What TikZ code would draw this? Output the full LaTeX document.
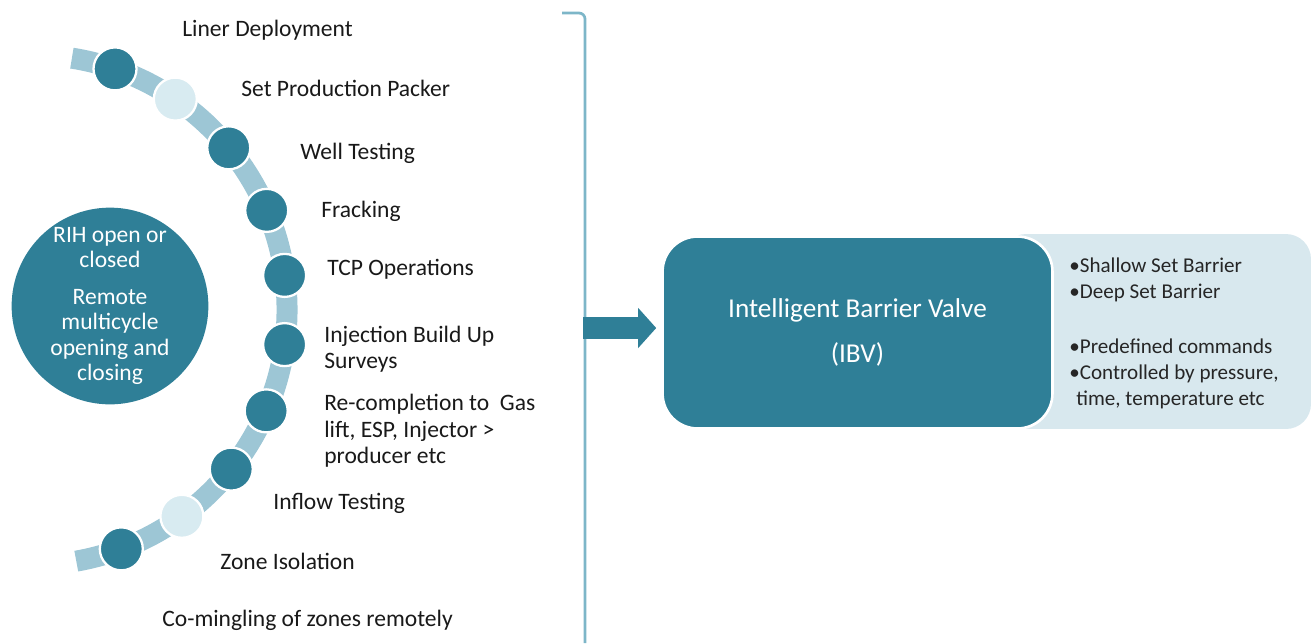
\documentclass[tikz,border=0pt]{standalone}
\usepackage{fontspec}
\setmainfont{Carlito}
\usepackage{tikz}
\usetikzlibrary{arrows.meta,positioning,calc}
\definecolor{ibvteal}{HTML}{2F7F97}
\definecolor{ibvband}{HTML}{9DC6D5}
\definecolor{ibvpale}{HTML}{D8EBF1}
\definecolor{ibvbox}{HTML}{D8E8EE}
\definecolor{ibvline}{HTML}{7DB6C8}

\begin{document}
\begin{tikzpicture}[x=0.02cm, y=0.02cm,
    stage/.style={circle, fill=ibvteal, draw=white, line width=1.3pt, minimum size=0.86cm, inner sep=0pt},
    stagepale/.style={stage, fill=ibvpale},
    stagelabel/.style={anchor=west, align=left, inner sep=0pt, text=black!90, font=\fontsize{13.4}{15}\selectfont},
    notetext/.style={anchor=west, align=left, inner sep=0pt, text=black!85, font=\fontsize{12}{15}\selectfont}]
        \def\hubr{255}
        \useasboundingbox (0,0) rectangle (1314,-643);
        \coordinate (hub) at (32,-310);

        \draw [ibvband, line width=0.42cm] ($(hub)+(81:\hubr)$) arc [start angle=81, end angle=-80, radius=\hubr];

        \node(s1) [stage] at ($(hub)+(71:\hubr)$) {};
        \node(s2) [stagepale] at ($(hub)+(55.8:\hubr)$) {};
        \node(s3) [stage] at ($(hub)+(39.5:\hubr)$) {};
        \node(s4) [stage] at ($(hub)+(23:\hubr)$) {};
        \node(s5) [stage] at ($(hub)+(7.8:\hubr)$) {};
        \node(s6) [stage] at ($(hub)+(-7.8:\hubr)$) {};
        \node(s7) [stage] at ($(hub)+(-23.3:\hubr)$) {};
        \node(s8) [stage] at ($(hub)+(-38.6:\hubr)$) {};
        \node(s9) [stagepale] at ($(hub)+(-54:\hubr)$) {};
        \node(s10) [stage] at ($(hub)+(-69.5:\hubr)$) {};

        \node(liner) [stagelabel] at (182,-30) {Liner Deployment};
        \node(packer) [stagelabel] at (241,-88) {Set Production Packer};
        \node(welltest) [stagelabel] at (300,-153) {Well Testing};
        \node(frack) [stagelabel] at (321,-211) {Fracking};
        \node(tcp) [stagelabel] at (327,-269) {TCP Operations};
        \node(inject) [stagelabel] at (324,-349) {Injection Build Up\\Surveys};
        \node(recomp) [stagelabel] at (324,-431) {Re-completion to\ \ Gas\\lift, ESP, Injector >\\producer etc};
        \node(inflow) [stagelabel] at (273,-503) {Inflow Testing};
        \node(zoneiso) [stagelabel] at (220,-561) {Zone Isolation};
        \node(comingle) [stagelabel] at (162,-620) {Co-mingling of zones remotely};

        \node(core) [circle, fill=ibvteal, minimum size=3.92cm, inner sep=0pt, align=center, text=white, font=\fontsize{13.4}{14.5}\selectfont] at (110,-306) {RIH open or\\closed\\[0.22cm]Remote\\multicycle\\opening and\\closing};

        \draw [ibvline, line width=0.055cm, rounded corners=0.12cm] (562,-13) -| (585,-643);

        \node(notes) [rectangle, fill=ibvbox, rounded corners=0.5cm, minimum width=6.2cm, minimum height=3.9cm] at (1156,-331.5) {};
        \node(ibv) [rectangle, fill=ibvteal, draw=white, line width=1.5pt, rounded corners=0.7cm, minimum width=7.8cm, minimum height=3.84cm, align=center, text=white, font=\fontsize{15.5}{25.5}\selectfont] at (857.5,-332.5) {Intelligent Barrier Valve\\(IBV)};

        \node(bullets) [notetext] at (1069,-333.5) {•Shallow Set Barrier\\•Deep Set Barrier\\[16pt]•Predefined commands\\•Controlled by pressure,\\\hspace*{0.14cm}time, temperature etc};

        \coordinate (brk) at (583,-328);
        \draw [ibvteal, line width=0.44cm, -{Triangle[width=0.78cm, length=0.36cm]}, shorten >=0.1cm] (brk) -- (brk -| ibv.west);
    \end{tikzpicture}
\end{document}
